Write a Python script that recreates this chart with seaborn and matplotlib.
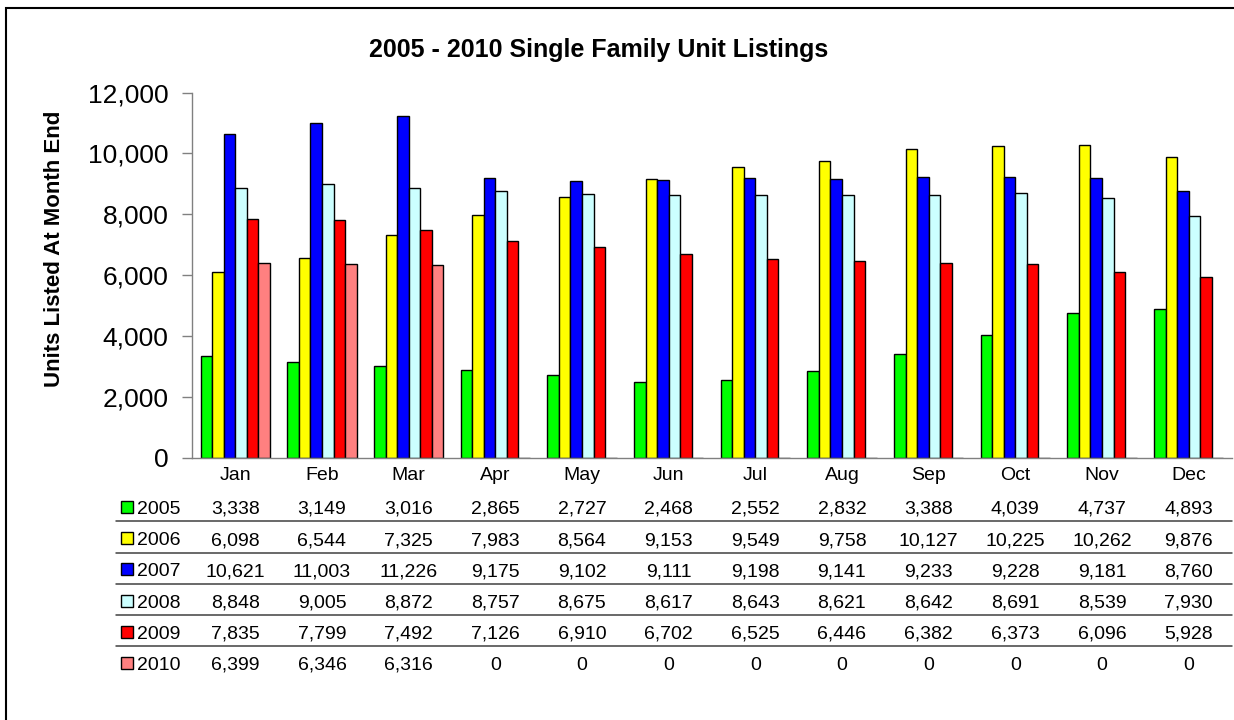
import matplotlib
matplotlib.use("Agg")
import matplotlib.pyplot as plt
import matplotlib.transforms as mtransforms
from matplotlib.patches import Rectangle
from matplotlib.lines import Line2D
import seaborn as sns
import pandas as pd

months = ["Jan", "Feb", "Mar", "Apr", "May", "Jun", "Jul", "Aug", "Sep", "Oct", "Nov", "Dec"]
years = ["2005", "2006", "2007", "2008", "2009", "2010"]
y2005 = [3338, 3149, 3016, 2865, 2727, 2468, 2552, 2832, 3388, 4039, 4737, 4893]
y2006 = [6098, 6544, 7325, 7983, 8564, 9153, 9549, 9758, 10127, 10225, 10262, 9876]
y2007 = [10621, 11003, 11226, 9175, 9102, 9111, 9198, 9141, 9233, 9228, 9181, 8760]
y2008 = [8848, 9005, 8872, 8757, 8675, 8617, 8643, 8621, 8642, 8691, 8539, 7930]
y2009 = [7835, 7799, 7492, 7126, 6910, 6702, 6525, 6446, 6382, 6373, 6096, 5928]
y2010 = [6399, 6346, 6316, 0, 0, 0, 0, 0, 0, 0, 0, 0]
yticks = [0, 2000, 4000, 6000, 8000, 10000, 12000]
colors = ["#00FF00", "#FFFF00", "#0000FF", "#CCFFFF", "#FF0000", "#FF8080"]

series = [y2005, y2006, y2007, y2008, y2009, y2010]
df = pd.DataFrame([
    {"Month": m, "Year": yr, "Units": v}
    for yr, vals in zip(years, series)
    for m, v in zip(months, vals)
])

sns.set_theme(style="white")
plt.rcParams["font.family"] = ["Liberation Sans", "DejaVu Sans"]
plt.rcParams["text.color"] = "black"
plt.rcParams["axes.labelcolor"] = "black"
plt.rcParams["xtick.color"] = "black"
plt.rcParams["ytick.color"] = "black"

W, H = 1234, 720
fig = plt.figure(figsize=(W / 100, H / 100), dpi=100)
fig.patch.set_facecolor("white")

def fy(py):
    return 1 - py / H

def fx(px):
    return px / W

ax_left, ax_right, ax_top, ax_bot = 192, 1232, 92.5, 457.5
ax = fig.add_axes([fx(ax_left), fy(ax_bot), fx(ax_right - ax_left), (ax_bot - ax_top) / H])

sns.barplot(data=df, x="Month", y="Units", hue="Year", order=months, hue_order=years,
            palette=colors, saturation=1, edgecolor="black", linewidth=1.0,
            errorbar=None, legend=False, ax=ax, width=0.8)

ax.set_ylim(0, 12000)
ax.set_xlim(-0.5, len(months) - 0.5)
ax.set_yticks(yticks)
ax.set_yticklabels([f"{v:,}" for v in yticks], fontsize=19, color="black")
ax.tick_params(axis="y", direction="out", length=7, width=1, color="#808080",
               labelcolor="black", pad=10, left=True)
ax.tick_params(axis="x", length=0, pad=7, labelsize=14, labelcolor="black")
ax.set_xlabel("")
ax.set_ylabel("")
for s in ["top", "right"]:
    ax.spines[s].set_visible(False)
for s in ["left", "bottom"]:
    ax.spines[s].set_color("#808080")
    ax.spines[s].set_linewidth(1.0)
ax.set_facecolor("white")

# Title and y label
fig.text(fx(599), fy(57.5), "2005 - 2010 Single Family Unit Listings", ha="center",
         va="baseline", fontsize=18, fontweight="bold", color="black")
fig.text(fx(54), fy(249), "Units Listed At Month End", ha="center", va="center",
         rotation=90, fontsize=16, fontweight="bold", color="black")

# Data table
blend = mtransforms.blended_transform_factory(ax.transData, fig.transFigure)
row_base = 514
row_step = 31.2
for r, (yr, vals, col) in enumerate(zip(years, series, colors)):
    base = row_base + r * row_step
    for i, v in enumerate(vals):
        ax.text(i, fy(base), f"{v:,}", transform=blend, ha="center", va="baseline",
                fontsize=14, color="black", clip_on=False)
    fig.add_artist(Rectangle((fx(121), fy(base - 1)), 12 / W, 12 / H,
                             transform=fig.transFigure, facecolor=col,
                             edgecolor="black", linewidth=1.0))
    fig.text(fx(137.5), fy(base), yr, ha="left", va="baseline", fontsize=14, color="black")
    if r < len(years) - 1:
        ly = fy(base + 7.3)
        fig.add_artist(Line2D([fx(116), fx(1232)], [ly, ly], transform=fig.transFigure,
                              color="#404040", linewidth=1.1))

# Outer chart border (extends past right/bottom edges)
fig.add_artist(Rectangle((fx(6), fy(760)), 1300 / W, (760 - 8) / H,
                         transform=fig.transFigure, facecolor="none",
                         edgecolor="black", linewidth=1.5))

fig.savefig("out.png", dpi=100, facecolor="white")
